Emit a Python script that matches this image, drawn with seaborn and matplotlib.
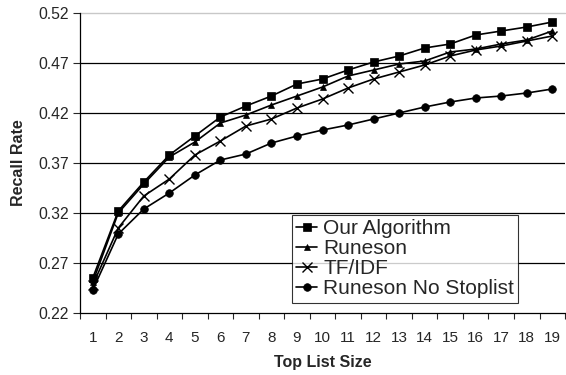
import pandas as pd
import matplotlib
matplotlib.use("Agg")
import matplotlib.pyplot as plt
from matplotlib.ticker import MultipleLocator, FixedLocator
import seaborn as sns

# =============================
#  Data
# =============================
top_list_size = list(range(1, 20))

our_algorithm = [0.255, 0.322, 0.351, 0.378, 0.397, 0.416, 0.427, 0.437, 0.449,
                 0.454, 0.463, 0.471, 0.477, 0.485, 0.489, 0.498, 0.502, 0.506, 0.511]
runeson = [0.251, 0.320, 0.349, 0.376, 0.391, 0.410, 0.418, 0.428, 0.437,
           0.446, 0.457, 0.463, 0.469, 0.472, 0.481, 0.484, 0.489, 0.493, 0.502]
tf_idf = [0.248, 0.305, 0.337, 0.354, 0.378, 0.392, 0.407, 0.414, 0.425,
          0.434, 0.445, 0.454, 0.461, 0.468, 0.477, 0.483, 0.487, 0.492, 0.497]
runeson_no_stoplist = [0.243, 0.299, 0.324, 0.340, 0.358, 0.373, 0.379, 0.390, 0.397,
                       0.403, 0.408, 0.414, 0.420, 0.426, 0.431, 0.435, 0.437, 0.440, 0.444]

series_names = ["Our Algorithm", "Runeson", "TF/IDF", "Runeson No Stoplist"]
series_values = [our_algorithm, runeson, tf_idf, runeson_no_stoplist]
y_ticks = [0.22, 0.27, 0.32, 0.37, 0.42, 0.47, 0.52]

df = pd.concat(
    [pd.DataFrame({"size": top_list_size, "recall": vals, "series": name})
     for name, vals in zip(series_names, series_values)],
    ignore_index=True,
)

# =============================
#  Figure
# =============================
sns.set_style("white")
plt.rcParams["font.family"] = ["Liberation Sans", "DejaVu Sans"]

fig = plt.figure(figsize=(5.66, 3.75), dpi=100)
ax = fig.add_axes([0.1413, 0.1653, 0.857, 0.8])

markers = {"Our Algorithm": "s", "Runeson": "^", "TF/IDF": "x", "Runeson No Stoplist": "o"}
sizes_mk = {"Our Algorithm": 5.5, "Runeson": 4, "TF/IDF": 7, "Runeson No Stoplist": 5.5}

for name in series_names:
    sns.lineplot(
        data=df[df["series"] == name], x="size", y="recall", ax=ax,
        color="black", marker=markers[name], markersize=sizes_mk[name],
        markeredgewidth=1.0 if name == "TF/IDF" else 0.5,
        markeredgecolor="black", linewidth=1.2, label=name,
    )

# grid lines (top one lighter)
for yv in y_ticks[1:-1]:
    ax.axhline(yv, color="black", linewidth=0.9, zorder=0)
ax.axhline(y_ticks[-1], color="#c8c8c8", linewidth=1.0, zorder=0, clip_on=False)

ax.set_xlim(0.5, 19.5)
ax.set_ylim(0.22, 0.52)
ax.set_yticks(y_ticks)
ax.set_yticklabels([f"{v:.2f}" for v in y_ticks])
ax.xaxis.set_major_locator(FixedLocator(top_list_size))
ax.xaxis.set_minor_locator(MultipleLocator(1, offset=0.5))
ax.tick_params(axis="x", which="major", length=0, pad=13, labelsize=11)
ax.tick_params(axis="x", which="minor", length=4, width=0.8, direction="out", bottom=True)
ax.tick_params(axis="y", length=5, width=0.8, direction="out", left=True, labelsize=11.3, pad=3)

for side in ["top", "right"]:
    ax.spines[side].set_visible(False)
for side in ["left", "bottom"]:
    ax.spines[side].set_color("black")
    ax.spines[side].set_linewidth(0.9)

ax.set_xlabel("Top List Size", fontsize=11.5, fontweight="bold", labelpad=7)
ax.set_ylabel("Recall Rate", fontsize=11.5, fontweight="bold", labelpad=9)

leg = ax.legend(loc="lower left", bbox_to_anchor=(0.437, 0.035), fontsize=15,
                frameon=True, fancybox=False, edgecolor="black",
                handlelength=1.0, handletextpad=0.3, labelspacing=0.05,
                borderpad=0.2, borderaxespad=0)
leg.get_frame().set_linewidth(0.8)

plt.savefig("out.png", dpi=100)
plt.close()
